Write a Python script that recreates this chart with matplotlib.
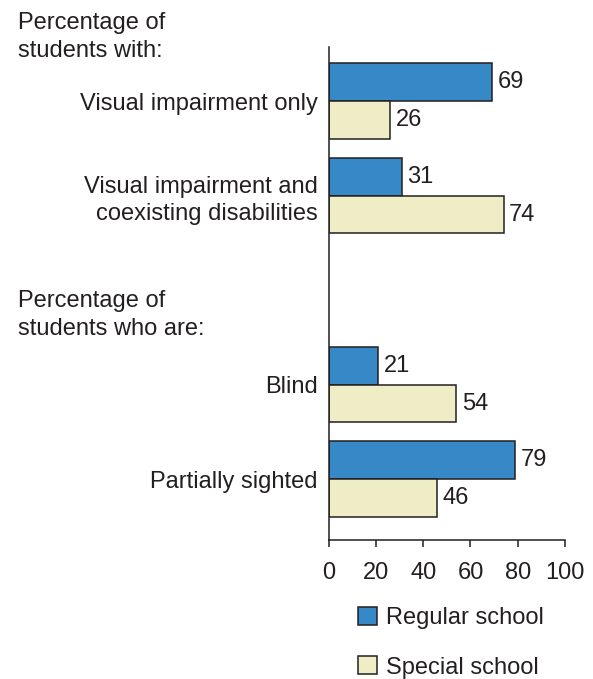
import matplotlib.pyplot as plt
from matplotlib.patches import Patch

plt.rcParams['font.family'] = ['Liberation Sans', 'DejaVu Sans']

# group labels, top to bottom
categories = ['Visual impairment only',
              'Visual impairment and\ncoexisting disabilities',
              'Blind',
              'Partially sighted']
regular = [69, 31, 21, 79]
special = [26, 74, 54, 46]
section_titles = ['Percentage of\nstudents with:', 'Percentage of\nstudents who are:']
ticks = [0, 20, 40, 60, 80, 100]

blue = '#3688c6'
cream = '#eeedc6'
ink = '#231f20'
fs = 17

ypos = [0, 1, 3, 4]
h = 0.4

fig = plt.figure(figsize=(5.93, 6.79), dpi=100)
ax = fig.add_axes([0.5543, 0.2047, 0.3985, 0.7265])

ax.barh([y - h / 2 for y in ypos], regular, height=h, color=blue,
        edgecolor=ink, linewidth=1.1)
ax.barh([y + h / 2 for y in ypos], special, height=h, color=cream,
        edgecolor=ink, linewidth=1.1)

for y, r, s in zip(ypos, regular, special):
    ax.annotate(str(r), (r, y - h / 2), xytext=(4, 0), textcoords='offset points',
                va='center', ha='left', fontsize=fs, color=ink)
    ax.annotate(str(s), (s, y + h / 2), xytext=(4, 0), textcoords='offset points',
                va='center', ha='left', fontsize=fs, color=ink)

ax.set_xlim(0, 100)
ax.set_ylim(4.645, -0.577)
ax.set_xticks(ticks)
ax.set_xticklabels([str(t) for t in ticks])
ax.set_yticks(ypos)
ax.set_yticklabels(categories, ha='right', multialignment='right', linespacing=1.3)
ax.tick_params(axis='y', length=0, pad=8, labelsize=fs, labelcolor=ink)
ax.tick_params(axis='x', length=5, width=1.1, color=ink, pad=11,
               labelsize=fs, labelcolor=ink)
for side in ['top', 'right']:
    ax.spines[side].set_visible(False)
for side in ['left', 'bottom']:
    ax.spines[side].set_color(ink)
    ax.spines[side].set_linewidth(1.1)

fig.text(18 / 593, 1 - 37 / 679, section_titles[0], ha='left', va='center',
         fontsize=fs, color=ink, linespacing=1.35)
fig.text(18 / 593, 1 - 315 / 679, section_titles[1], ha='left', va='center',
         fontsize=fs, color=ink, linespacing=1.35)

handles = [Patch(facecolor=blue, edgecolor=ink, linewidth=1.1),
           Patch(facecolor=cream, edgecolor=ink, linewidth=1.1)]
fig.legend(handles, ['Regular school', 'Special school'], loc='upper left',
           bbox_to_anchor=(358 / 593, 1 - 607 / 679), frameon=False,
           fontsize=fs, handlelength=0.8, handleheight=0.8, handletextpad=0.4,
           labelspacing=1.15, borderpad=0, borderaxespad=0, labelcolor=ink)

fig.savefig('out.png', dpi=100)
